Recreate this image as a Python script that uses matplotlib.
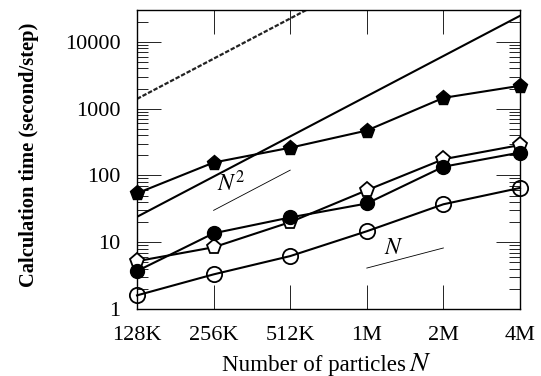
import matplotlib
matplotlib.use('Agg')
import matplotlib.pyplot as plt
import numpy

# particle counts and labels
n_values = [131072, 262144, 524288, 1048576, 2097152, 4194304]
n_labels = ['128K', '256K', '512K', '1M', '2M', '4M']

# measured calculation times (second/step)
filled_pentagon = [54, 156, 260, 470, 1450, 2200]
open_pentagon = [5.2, 8.4, 20, 60, 175, 285]
filled_circle = [3.7, 13.6, 23.5, 38, 135, 220]
open_circle = [1.6, 3.3, 6.2, 14.6, 37, 65]

# N^2 scaling lines, value at 128K
dotted_n2_start = 1400
solid_n2_start = 24

# slope guides: (N_start, N_end, value at start)
guide_n2 = (262144, 524288, 30)
guide_n = (1048576, 2097152, 4.1)

y_ticks = [1, 10, 100, 1000, 10000]
y_labels = ['1', '10', '100', '1000', '10000']


def main():
  plt.rcParams['font.family'] = ['Liberation Serif', 'DejaVu Serif']
  plt.rcParams['mathtext.fontset'] = 'stix'

  fig = plt.figure(figsize=(5.41, 3.76), dpi=100)
  ax = fig.add_axes([137 / 541, 1 - 309 / 376, 383 / 541, 299 / 376])

  nx = numpy.array(n_values, dtype=float)
  ratio = nx / n_values[0]

  # N^2 lines
  ax.plot(nx, dotted_n2_start * ratio ** 2, color='#222222', lw=1.6,
          linestyle=(0, (2.0, 0.8)))
  ax.plot(nx, solid_n2_start * ratio ** 2, color='black', lw=1.5)

  # measurements
  ax.plot(nx, filled_pentagon, 'k-', lw=1.5, marker='p', ms=11,
          mfc='black', mec='black', clip_on=False, zorder=5)
  ax.plot(nx, open_pentagon, 'k-', lw=1.5, marker='p', ms=11,
          mfc='white', mec='black', mew=1.3, clip_on=False, zorder=5)
  ax.plot(nx, filled_circle, 'k-', lw=1.5, marker='o', ms=10,
          mfc='black', mec='black', clip_on=False, zorder=5)
  ax.plot(nx, open_circle, 'k-', lw=1.5, marker='o', ms=11,
          mfc='none', mec='black', mew=1.3, clip_on=False, zorder=5)

  # slope guides
  x0, x1, v0 = guide_n2
  ax.plot([x0, x1], [v0, v0 * (x1 / x0) ** 2], color='black', lw=0.6)
  ax.text(262144 * 1.17, 75, r'$N^2$', fontsize=17, ha='center', va='center')
  x0, x1, v0 = guide_n
  ax.plot([x0, x1], [v0, v0 * (x1 / x0)], color='black', lw=0.6)
  ax.text(1048576 * 1.28, 8.0, r'$N$', fontsize=17, ha='center', va='center')

  ax.set_xscale('log', base=2)
  ax.set_yscale('log')
  ax.set_xlim(n_values[0], n_values[-1])
  ax.set_ylim(1, 30000)
  ax.set_xticks(n_values)
  ax.set_xticklabels(n_labels, fontsize=16)
  ax.xaxis.set_minor_locator(matplotlib.ticker.NullLocator())
  ax.set_yticks(y_ticks)
  ax.set_yticklabels(y_labels, fontsize=16)

  ax.tick_params(which='major', direction='in', length=17, width=0.6,
                 top=True, right=True)
  ax.tick_params(axis='x', which='major', pad=12)
  ax.tick_params(axis='y', which='major', pad=12)
  ax.tick_params(which='minor', direction='in', length=8, width=0.6,
                 right=True)
  for spine in ax.spines.values():
    spine.set_linewidth(1.0)

  # axis labels
  fig.text(406 / 541, 1 - 371 / 376, 'Number of particles', fontsize=16.6,
           ha='right', va='baseline')
  fig.text(409 / 541, 1 - 371 / 376, r'$N$', fontsize=20,
           ha='left', va='baseline')
  ax.set_ylabel('Calculation time (second/step)', fontsize=14.8,
                fontweight='bold')
  ax.yaxis.set_label_coords(-0.255, 0.515)

  fig.savefig('out.png', dpi=100)


if __name__ == '__main__':
  main()
